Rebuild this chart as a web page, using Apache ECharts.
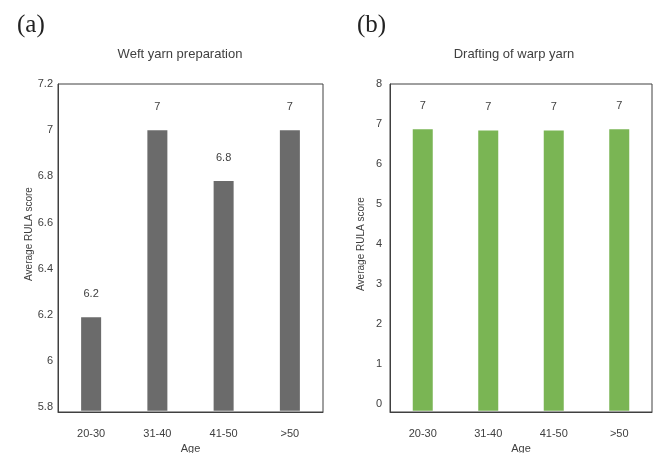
<!DOCTYPE html>
<html>
<head>
<meta charset="utf-8">
<script src="https://cdn.jsdelivr.net/npm/echarts@6/dist/echarts.min.js"></script>
<style>html,body{margin:0;padding:0;background:#fff;}#c{width:653px;height:453px;}</style>
</head>
<body>
<div id="c"></div>
<script>
var categories = ['20-30', '31-40', '41-50', '>50'];
var weftValues = [6.19, 7.0, 6.78, 7.0];
var weftLabels = ['6.2', '7', '6.8', '7'];
var warpValues = [6.87, 6.84, 6.84, 6.87];
var warpLabels = ['7', '7', '7', '7'];
var weftTicks = [5.8, 6, 6.2, 6.4, 6.6, 6.8, 7, 7.2];
var warpTicks = [0, 1, 2, 3, 4, 5, 6, 7, 8];

var txt = '#404040';
var font = 'Liberation Sans, Arial, sans-serif';
var chart = echarts.init(document.getElementById('c'), null, {renderer: 'canvas'});

function xAx(gi) {
  return {
    type: 'category', gridIndex: gi, data: categories,
    name: 'Age', nameLocation: 'middle', nameGap: 30,
    nameTextStyle: {color: txt, fontSize: 11, fontFamily: font},
    axisLine: {onZero: false, lineStyle: {color: '#404040', width: 1}},
    axisTick: {show: false},
    axisLabel: {color: txt, fontSize: 11, fontFamily: font, margin: 16}
  };
}
function yAx(gi, min, max, ticks, fmt, margin, shift) {
  return {
    type: 'value', gridIndex: gi, min: min, max: max,
    name: 'Average RULA score', nameLocation: 'middle', nameGap: 24,
    nameTextStyle: {color: txt, fontSize: 10, fontFamily: font, padding: [0, 0, 0, shift]},
    axisLine: {show: true, onZero: false, lineStyle: {color: '#404040', width: 1}},
    axisTick: {show: false},
    splitLine: {show: false},
    axisLabel: {color: txt, fontSize: 11, fontFamily: font, margin: margin,
      customValues: ticks, formatter: fmt}
  };
}

function barSeries(xi, values, labels, color, base) {
  return {
    type: 'custom', xAxisIndex: xi, yAxisIndex: xi,
    data: values.map(function (v, i) { return [i, v]; }),
    encode: {x: 0, y: 1},
    renderItem: function (params, api) {
      var i = api.value(0), v = api.value(1);
      var top = api.coord([i, v]);
      var bot = api.coord([i, base]);
      var w = 20;
      return {
        type: 'group',
        children: [
          {type: 'rect', shape: {x: top[0] - w / 2, y: top[1], width: w, height: bot[1] - top[1]},
            style: {fill: color}},
          {type: 'text', x: top[0], y: top[1] - 18,
            style: {text: labels[params.dataIndex], fill: txt, font: '11px ' + font,
              align: 'center', verticalAlign: 'bottom'}}
        ]
      };
    }
  };
}

chart.setOption({
  animation: false,
  backgroundColor: '#fff',
  title: [
    {text: 'Weft yarn preparation', left: 175, top: 43, textAlign: 'center',
      textStyle: {color: txt, fontSize: 13, fontWeight: 'normal', fontFamily: font}},
    {text: 'Drafting of warp yarn', left: 509, top: 43, textAlign: 'center',
      textStyle: {color: txt, fontSize: 13, fontWeight: 'normal', fontFamily: font}},
    {text: '(a)', left: 12, top: 8,
      textStyle: {color: '#222', fontSize: 25, fontWeight: 'normal', fontFamily: 'Liberation Serif, Times New Roman, serif'}},
    {text: '(b)', left: 352, top: 8,
      textStyle: {color: '#222', fontSize: 25, fontWeight: 'normal', fontFamily: 'Liberation Serif, Times New Roman, serif'}}
  ],
  grid: [
    {left: 58, top: 84, width: 265, height: 328, show: true, borderColor: '#404040', borderWidth: 1,
      backgroundColor: 'transparent', containLabel: false, outerBoundsMode: 'none'},
    {left: 390, top: 84, width: 262, height: 328, show: true, borderColor: '#404040', borderWidth: 1,
      backgroundColor: 'transparent', containLabel: false, outerBoundsMode: 'none'}
  ],
  xAxis: [xAx(0), xAx(1)],
  yAxis: [
    yAx(0, 5.78, 7.2, weftTicks, function (v) { return String(Math.round(v * 10) / 10); }, 5, 28),
    yAx(1, -0.2, 8, warpTicks, function (v) { return String(Math.round(v)); }, 8, 8)
  ],
  series: [
    barSeries(0, weftValues, weftLabels, '#6b6b6b', 5.785),
    barSeries(1, warpValues, warpLabels, '#7ab554', -0.17)
  ]
});
</script>
</body>
</html>
